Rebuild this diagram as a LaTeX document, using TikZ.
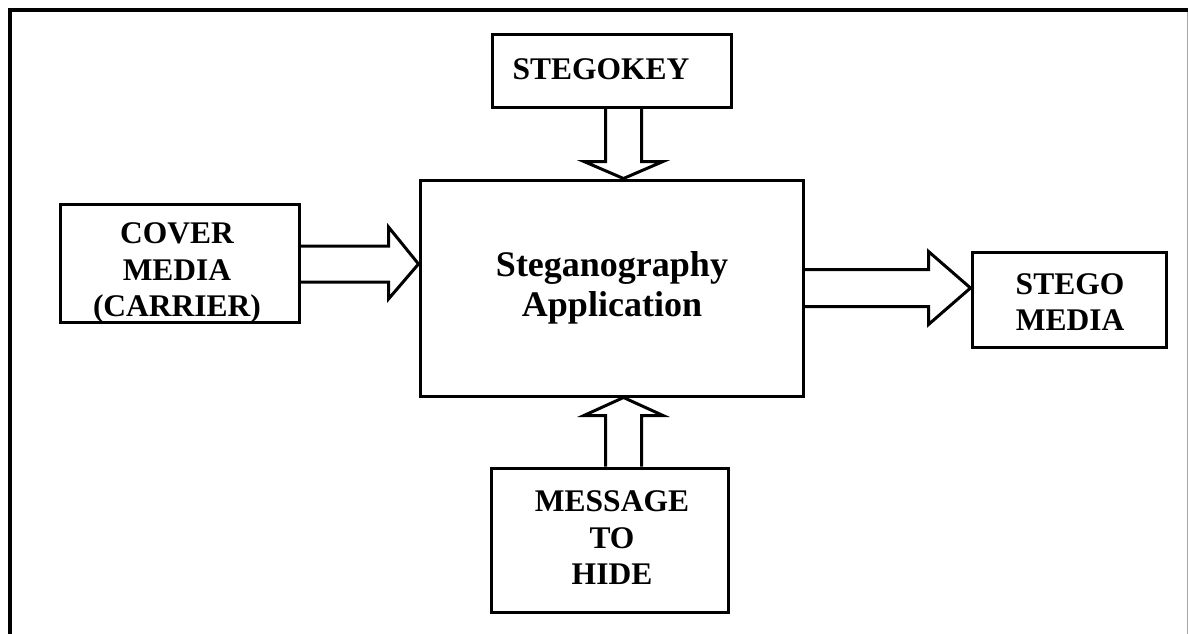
\documentclass[tikz,border=0pt]{standalone}
\usepackage{fontspec}
\setmainfont{Liberation Serif}
\usetikzlibrary{calc}
\tikzset{
  box/.style={draw, line width=3pt, minimum width=#1, inner sep=0pt},
  lbl/.style={align=center, inner sep=0pt, font=\fontsize{31.5}{36.5}\selectfont\bfseries},
  mainlbl/.style={align=center, inner sep=0pt, font=\fontsize{36}{40}\selectfont\bfseries},
  blk/.style={draw, line width=3pt, line join=miter},
  frame/.style={line width=4pt}
}
\begin{document}
\begin{tikzpicture}[x=1pt, y=-1pt]
\useasboundingbox (0,0) rectangle (1188,634);
% outer frame (open at the bottom)
\draw[frame] (8,10) -- (1188,10);
\draw[frame] (10,8) -- (10,634);
\draw[line width=1pt, black!35] (1187.5,12) -- (1187.5,634);

% boxes
\node[box=239pt, minimum height=72pt]  (key)   at (611.5,71)  {};
\node[box=239pt, minimum height=118pt] (cover) at (179.5,263) {};
\node[box=383pt, minimum height=216pt] (main)  at (611.5,288) {};
\node[box=194pt, minimum height=95pt]  (stego) at (1069,299.5) {};
\node[box=237pt, minimum height=144pt] (msg)   at (609.5,540) {};

% box texts
\node[lbl] (keytxt)   at (601,69)   {STEGOKEY};
\node[lbl] (covertxt) at (177,273)  {COVER\\MEDIA\\(CARRIER)};
\node[mainlbl] (maintxt) at (612,288) {Steganography\\Application};
\node[lbl] (stegotxt) at (1070,302) {STEGO\\MEDIA};
\node[lbl] (msgtxt)   at (612,538)  {MESSAGE\\TO\\HIDE};

% block arrow: stegokey -> application (downwards)
\coordinate (dT) at ([xshift=12pt]main.north);
\coordinate (dB) at (dT |- key.south);
\draw[blk] ($(dB)+(-18,0)$) -- ($(dT)+(-18,-17)$) -- ($(dT)+(-39.5,-17)$) -- (dT)
  -- ($(dT)+(39.5,-17)$) -- ($(dT)+(18,-17)$) -- ($(dB)+(18,0)$);

% block arrow: message -> application (upwards)
\coordinate (uT) at ([xshift=12pt]main.south);
\coordinate (uB) at (uT |- msg.north);
\draw[blk] ($(uB)+(-18,0)$) -- ($(uT)+(-18,18)$) -- ($(uT)+(-39.5,18)$) -- (uT)
  -- ($(uT)+(39.5,18)$) -- ($(uT)+(18,18)$) -- ($(uB)+(18,0)$);

% block arrow: cover media -> application
\coordinate (lT) at ([yshift=24pt]main.west);
\coordinate (lB) at (lT -| cover.east);
\draw[blk] ($(lB)+(0,-18)$) -- ($(lT)+(-30,-18)$) -- ($(lT)+(-30,-37)$) -- (lT)
  -- ($(lT)+(-30,35)$) -- ($(lT)+(-30,18)$) -- ($(lB)+(0,18)$);

% block arrow: application -> stego media
\coordinate (rB) at (main.east);
\coordinate (rT) at (rB -| stego.west);
\draw[blk] ($(rB)+(0,-18.5)$) -- ($(rT)+(-42,-18.5)$) -- ($(rT)+(-42,-36.5)$) -- (rT)
  -- ($(rT)+(-42,36.5)$) -- ($(rT)+(-42,18.5)$) -- ($(rB)+(0,18.5)$);
\end{tikzpicture}
\end{document}
